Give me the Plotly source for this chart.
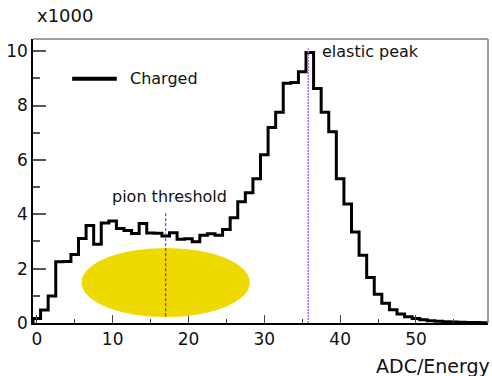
import plotly.graph_objects as go

# ---- data (bin centres in ADC/Energy units, counts per bin) ----
bin_centers = list(range(0, 60))
counts = [170, 480, 990, 2250, 2260, 2520, 3110, 3590, 2900, 3680,
          3750, 3480, 3400, 3290, 3660, 3310, 3300, 3200, 3320, 3080,
          3100, 2990, 3230, 3280, 3230, 3440, 3870, 4460, 4790, 5310,
          6190, 7190, 7750, 8820, 8850, 9240, 9950, 8630, 7750, 7040,
          5310, 4380, 3350, 2490, 1670, 1060, 730, 490, 330, 230,
          170, 120, 80, 60, 50, 40, 30, 20, 20, 10]
series_name = "Charged"
pion_threshold = 17.0
elastic_peak = 35.8
ellipse_center = (17.0, 1.49)   # x, y (x1000)
ellipse_half = (11.1, 1.27)
x_ticks = [0, 10, 20, 30, 40, 50]
y_ticks = [0, 2, 4, 6, 8, 10]
stray_marker = (56.2, -0.24)

BIN_W = 1.0
scale = 1000.0

# step outline built from the bins
xs = [bin_centers[0] - BIN_W / 2]
ys = [0.0]
for c, v in zip(bin_centers, counts):
    xs.append(c - BIN_W / 2)
    ys.append(v / scale)
xs.append(bin_centers[-1] + BIN_W / 2)
ys.append(counts[-1] / scale)

xmin = bin_centers[0] - BIN_W / 2
xmax = bin_centers[-1] + BIN_W / 2
ymax = max(counts) / scale * 1.05

FONT = "DejaVu Sans"

fig = go.Figure()
fig.add_trace(go.Scatter(x=xs, y=ys, mode="lines", line_shape="hv",
                         line=dict(color="black", width=3),
                         name=series_name, showlegend=False,
                         hoverinfo="skip"))
fig.add_trace(go.Scatter(x=[stray_marker[0]], y=[stray_marker[1]], mode="markers",
                         marker=dict(color="#c070ff", size=3), cliponaxis=False,
                         showlegend=False, hoverinfo="skip"))

shapes = [
    # ellipse
    dict(type="circle", xref="x", yref="y", layer="above",
         x0=ellipse_center[0] - ellipse_half[0], x1=ellipse_center[0] + ellipse_half[0],
         y0=ellipse_center[1] - ellipse_half[1], y1=ellipse_center[1] + ellipse_half[1],
         fillcolor="#eed900", line=dict(width=0)),
    # pion threshold line
    dict(type="line", xref="x", yref="y", layer="above",
         x0=pion_threshold, x1=pion_threshold, y0=0.25, y1=4.05,
         line=dict(color="#7000e0", width=1, dash="3px,2px")),
    # elastic peak line
    dict(type="line", xref="x", yref="y", layer="above",
         x0=elastic_peak, x1=elastic_peak, y0=0, y1=10.1,
         line=dict(color="#b46cff", width=1.6, dash="2px,1px")),
    # frame top / right
    dict(type="line", xref="paper", yref="paper", x0=0, x1=1, y0=1, y1=1,
         line=dict(color="#808080", width=1.5)),
    dict(type="line", xref="paper", yref="paper", x0=1, x1=1, y0=0, y1=1,
         line=dict(color="#808080", width=1.5)),
    # legend sample
    dict(type="line", xref="paper", yref="paper", x0=0.086, x1=0.184, y0=0.86, y1=0.86,
         line=dict(color="black", width=4)),
]

annotations = [
    dict(text="x1000", xref="paper", yref="paper", x=0.004, y=1.084,
         xanchor="left", yanchor="middle", showarrow=False,
         font=dict(family=FONT, size=18, color="#111")),
    dict(text=series_name, xref="paper", yref="paper", x=0.209, y=0.862,
         xanchor="left", yanchor="middle", showarrow=False,
         font=dict(family=FONT, size=16, color="#111")),
    dict(text="elastic peak", xref="x", yref="paper", x=37.4, y=0.955,
         xanchor="left", yanchor="middle", showarrow=False,
         font=dict(family=FONT, size=16, color="#111")),
    dict(text="pion threshold", xref="x", yref="y", x=9.6, y=4.66,
         xanchor="left", yanchor="middle", showarrow=False,
         font=dict(family=FONT, size=16, color="#111")),
    dict(text="ADC/Energy", xref="paper", yref="paper", x=1.008, y=-0.152,
         xanchor="right", yanchor="middle", showarrow=False,
         font=dict(family=FONT, size=19, color="#111")),
]

fig.update_layout(
    width=492, height=376,
    margin=dict(l=33, r=4, t=39, b=53),
    paper_bgcolor="white", plot_bgcolor="white",
    font=dict(family=FONT, size=17, color="#111"),
    shapes=shapes, annotations=annotations,
    showlegend=False,
    xaxis=dict(range=[xmin, xmax], tickvals=x_ticks, ticks="inside", ticklen=8,
               tickcolor="#444", tickwidth=1, showgrid=False, zeroline=False,
               showline=True, linecolor="black", linewidth=1.5,
               tickfont=dict(family=FONT, size=17, color="#111"),
               minor=dict(dtick=5, tick0=0, ticks="inside", ticklen=4,
                          tickcolor="#444", showgrid=False)),
    yaxis=dict(range=[0, ymax], tickvals=y_ticks, ticks="inside", ticklen=13,
               tickcolor="#555", tickwidth=1.5, showgrid=False, zeroline=False,
               showline=True, linecolor="black", linewidth=1.5,
               tickfont=dict(family=FONT, size=17, color="#111"),
               minor=dict(dtick=1, tick0=0, ticks="inside", ticklen=7,
                          tickcolor="#555", showgrid=False)),
)

fig.write_html("out.html")
